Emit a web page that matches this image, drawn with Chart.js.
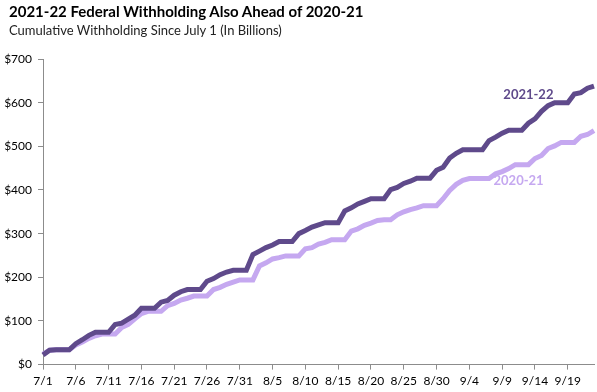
<!DOCTYPE html>
<html>
<head>
<meta charset="utf-8">
<script src="https://cdn.jsdelivr.net/npm/chart.js@4.4.1/dist/chart.umd.min.js"></script>
<style>
    html, body { margin: 0; padding: 0; background: #fff; }
    .chart-container { position: relative; width: 597px; height: 392px; }
    .chart-title {
        position: absolute; left: 9px; top: 2px;
        font: bold 15px Lato, 'Open Sans', sans-serif; color: #000;
    }
    .chart-subtitle {
        position: absolute; left: 9px; top: 22px;
        font: 13px Lato, 'Open Sans', sans-serif; color: #222;
    }
</style>
</head>
<body>
<div class="chart-container">
    <div class="chart-title">2021-22 Federal Withholding Also Ahead of 2020-21</div>
    <div class="chart-subtitle">Cumulative Withholding Since July 1 (In Billions)</div>
    <canvas id="withholdingChart"></canvas>
</div>
<script>
// Days from July 1 through September 23
const dates = [];
const start = new Date(2021, 6, 1);
for (let i = 0; i < 85; i++) {
    const d = new Date(start.getFullYear(), start.getMonth(), start.getDate() + i);
    dates.push((d.getMonth() + 1) + '/' + d.getDate());
}

// Cumulative withholding, billions of dollars
const fy2122 = [
    22, 33, 34, 34, 34, 48, 57, 67, 74, 74,
    74, 92, 95, 104, 113, 129, 129, 129, 143, 147,
    159, 167, 172, 172, 172, 191, 197, 206, 212, 216,
    216, 216, 252, 260, 268, 274, 282, 282, 282, 300,
    307, 315, 320, 325, 325, 325, 352, 359, 368, 374,
    380, 380, 380, 401, 406, 415, 420, 427, 427, 427,
    445, 452, 473, 484, 492, 492, 492, 492, 513, 521,
    530, 537, 537, 537, 553, 563, 580, 593, 600, 600,
    600, 620, 623, 633, 638
];
const fy2021 = [
    24, 33, 34, 34, 34, 45, 52, 60, 66, 70,
    70, 70, 85, 92, 105, 117, 122, 122, 122, 135,
    140, 148, 152, 157, 157, 157, 172, 177, 184, 189,
    194, 194, 194, 226, 233, 242, 245, 249, 249, 249,
    265, 268, 276, 280, 286, 286, 286, 306, 311, 319,
    324, 330, 332, 332, 343, 350, 355, 359, 364, 364,
    364, 380, 399, 413, 422, 426, 426, 426, 426, 437,
    442, 449, 458, 458, 458, 472, 479, 495, 501, 509,
    509, 509, 523, 527, 536
];
const yTicks = [0, 100, 200, 300, 400, 500, 600, 700];

const darkPurple = '#5f4a8b';
const lightPurple = '#c5a8f0';
const axisGray = '#8c8c8c';
const font = "Lato, 'Open Sans', sans-serif";

// Series names written next to the lines
const seriesLabels = {
    id: 'seriesLabels',
    afterDatasetsDraw(chart) {
        const { ctx, scales: { x, y } } = chart;
        ctx.save();
        ctx.font = 'bold 13px ' + font;
        ctx.textAlign = 'center';
        ctx.textBaseline = 'middle';
        ctx.fillStyle = darkPurple;
        ctx.fillText('2021-22', x.getPixelForValue(74), y.getPixelForValue(618));
        ctx.fillStyle = lightPurple;
        ctx.fillText('2020-21', x.getPixelForValue(72.5), y.getPixelForValue(420));
        ctx.restore();
    }
};

const ctx = document.getElementById('withholdingChart').getContext('2d');
const withholdingChart = new Chart(ctx, {
    type: 'line',
    data: {
        labels: dates,
        datasets: [{
            label: '2021-22',
            data: fy2122,
            borderColor: darkPurple,
            borderWidth: 5,
            pointRadius: 0,
            tension: 0
        }, {
            label: '2020-21',
            data: fy2021,
            borderColor: lightPurple,
            borderWidth: 5,
            pointRadius: 0,
            tension: 0
        }]
    },
    options: {
        responsive: true,
        maintainAspectRatio: false,
        animation: false,
        layout: { padding: { left: 4, right: 3, top: 59, bottom: 0 } },
        plugins: {
            legend: { display: false },
            tooltip: { enabled: false }
        },
        scales: {
            x: {
                offset: false,
                border: { color: axisGray, width: 1 },
                grid: { drawOnChartArea: false, color: axisGray, tickLength: 5 },
                ticks: {
                    autoSkip: false,
                    maxRotation: 0,
                    color: '#000',
                    font: { family: font, size: 12 },
                    padding: 4,
                    callback: function (val, i) {
                        return i % 5 === 0 ? dates[i] : null;
                    }
                }
            },
            y: {
                min: 0,
                max: 700,
                border: { color: axisGray, width: 1 },
                grid: { drawOnChartArea: false, color: axisGray, tickLength: 5 },
                afterBuildTicks: function (axis) {
                    axis.ticks = yTicks.map(v => ({ value: v }));
                },
                afterFit: function (axis) {
                    axis.width = 39;
                },
                ticks: {
                    color: '#000',
                    font: { family: font, size: 12 },
                    padding: 6,
                    callback: v => '$' + v
                }
            }
        }
    },
    plugins: [seriesLabels]
});
</script>
</body>
</html>
